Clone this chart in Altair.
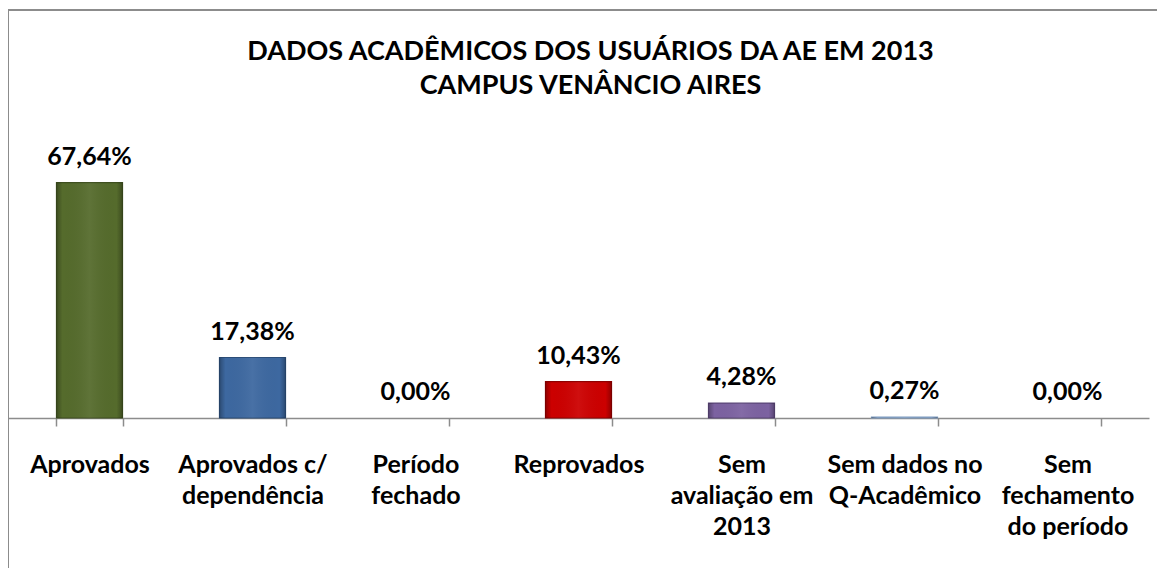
import altair as alt
import pandas as pd

categories = [
    "Aprovados",
    "Aprovados c/|dependência",
    "Período|fechado",
    "Reprovados",
    "Sem|avaliação em|2013",
    "Sem dados no|Q-Acadêmico",
    "Sem|fechamento|do período",
]
values = [67.64, 17.38, 0.00, 10.43, 4.28, 0.27, 0.00]
fills = ["#556b2c", "#3d68a0", "#8faacc", "#cc0000", "#7c62a1", "#9bb7d9", "#9bb7d9"]
strokes = ["#3e4f1f", "#2b4d78", "transparent", "#8f0000", "#5a4678", "#7f9cc0", "transparent"]

df = pd.DataFrame({
    "cat": categories,
    "val": values,
    "fill": fills,
    "stroke": strokes,
})
df["lbl"] = [f"{v:.2f}".replace(".", ",") + "%" for v in values]

W = 1141
H = 261
FONT = "Lato"

x = alt.X(
    "cat:N",
    sort=categories,
    scale=alt.Scale(paddingInner=0.595, paddingOuter=0.2975),
    axis=alt.Axis(
        title=None,
        labelAngle=0,
        labelExpr="split(datum.label, '|')",
        labelFont=FONT,
        labelFontSize=25,
        labelFontWeight="bold",
        labelColor="#000000",
        labelLineHeight=31,
        labelPadding=26,
        labelLimit=300,
        labelOverlap=False,
        tickBand="extent",
        tickSize=8,
        tickColor="#8c8c8c",
        domainColor="#8c8c8c",
        domainWidth=1.5,
        tickWidth=1.5,
    ),
)
y = alt.Y("val:Q", scale=alt.Scale(domain=[0, 75]), axis=None)

base = alt.Chart(df)

bars = base.mark_bar(strokeWidth=1.2).encode(
    x=x,
    y=y,
    fill=alt.Fill("fill:N", scale=None),
    stroke=alt.Stroke("stroke:N", scale=None),
)

shade = base.mark_bar(
    color=alt.Gradient(
        gradient="linear", x1=0, x2=1, y1=0, y2=0,
        stops=[
            alt.GradientStop(color="rgba(0,0,0,0.28)", offset=0),
            alt.GradientStop(color="rgba(0,0,0,0)", offset=0.09),
            alt.GradientStop(color="rgba(255,255,255,0.06)", offset=0.5),
            alt.GradientStop(color="rgba(0,0,0,0)", offset=0.91),
            alt.GradientStop(color="rgba(0,0,0,0.28)", offset=1),
        ],
    )
).encode(x=x, y=y)

labels = base.mark_text(
    font=FONT, fontSize=25, fontWeight="bold", color="#000000",
    baseline="alphabetic", dy=-18,
).encode(x=x, y=y, text="lbl:N")

one = pd.DataFrame({"k": [0]})
border_v = alt.Chart(one).mark_rule(color="#8c8c8c", strokeWidth=2).encode(
    x=alt.value(0), y=alt.value(-147), y2=alt.value(H + 160)
)
border_h = alt.Chart(one).mark_rule(color="#8c8c8c", strokeWidth=2).encode(
    x=alt.value(0), x2=alt.value(W + 10), y=alt.value(-147)
)

chart = alt.layer(bars, shade, labels, border_v, border_h).properties(
    width=W,
    height=H,
    autosize=alt.AutoSizeParams(type="none"),
    padding={"left": 0, "top": 149, "right": 8, "bottom": 150},
    title=alt.Title(
        ["DADOS ACADÊMICOS DOS USUÁRIOS DA AE EM 2013", "CAMPUS VENÂNCIO AIRES"],
        font=FONT, fontSize=27, fontWeight="bold", color="#000000",
        lineHeight=34, anchor="middle", dx=12, offset=-91,
    ),
).configure_view(stroke=None)

chart.save("out.html", embed_options={"renderer": "svg", "actions": False})
